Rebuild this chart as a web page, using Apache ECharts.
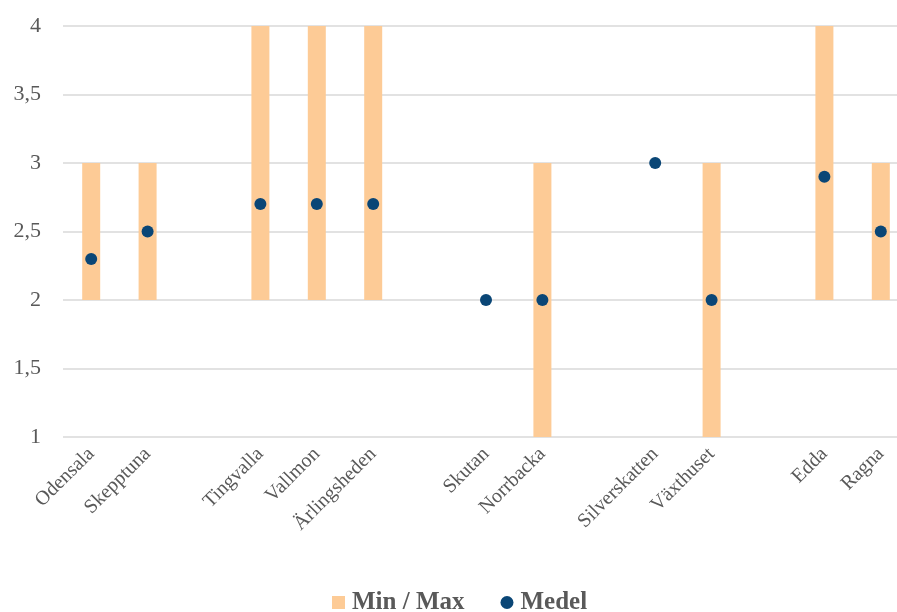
<!DOCTYPE html>
<html>
<head>
<meta charset="utf-8">
<script src="https://cdn.jsdelivr.net/npm/echarts@6/dist/echarts.min.js"></script>
<style>html,body{margin:0;padding:0;background:#fff;overflow:hidden}#c{width:897px;height:612px}</style>
</head>
<body>
<div id="c"></div>
<script>
const categories = ['Odensala','Skepptuna','','Tingvalla','Vallmon','Ärlingsheden','','Skutan','Norrbacka','','Silverskatten','Växthuset','','Edda','Ragna'];
const minValues = [2, 2, null, 2, 2, 2, null, 2, 1, null, 3, 1, null, 2, 2];
const maxValues = [3, 3, null, 4, 4, 4, null, 2, 3, null, 3, 3, null, 4, 3];
const meanValues = [2.3, 2.5, null, 2.7, 2.7, 2.7, null, 2, 2, null, 3, 2, null, 2.9, 2.5];
const yTicks = [1, 1.5, 2, 2.5, 3, 3.5, 4];

const rangeValues = minValues.map((m, i) => (m === null ? null : maxValues[i] - m));
const font = '"Liberation Serif", "DejaVu Serif", serif';

const chart = echarts.init(document.getElementById('c'));
chart.setOption({
  animation: false,
  textStyle: { fontFamily: font },
  grid: { left: 63, width: 846, top: 26, height: 411, outerBoundsMode: 'none', containLabel: false },
  legend: {
    top: 590,
    left: 332,
    padding: 0,
    itemGap: 36,
    itemWidth: 13,
    itemHeight: 13,
    textStyle: { fontFamily: font, fontSize: 25, fontWeight: 'bold', color: '#595959', padding: [0, 0, 0, 2] },
    data: [
      { name: 'Min / Max', icon: 'rect' },
      { name: 'Medel', icon: 'circle' }
    ]
  },
  xAxis: {
    type: 'category',
    data: categories,
    axisLine: { show: false },
    axisTick: { show: false },
    axisLabel: {
      interval: 0,
      rotate: 45,
      fontFamily: font,
      fontSize: 20,
      color: '#595959',
      margin: 14
    }
  },
  yAxis: {
    type: 'value',
    min: 1,
    max: 4,
    interval: 0.5,
    axisLine: { show: false },
    axisTick: { show: false },
    splitLine: { lineStyle: { color: '#d9d9d9', width: 1.5 } },
    axisLabel: {
      fontFamily: font,
      fontSize: 22,
      color: '#595959',
      margin: 22,
      formatter: v => yTicks.includes(v) ? String(v).replace('.', ',') : ''
    }
  },
  series: [
    {
      name: 'base',
      type: 'bar',
      stack: 'r',
      barWidth: 18,
      itemStyle: { color: 'transparent' },
      data: minValues,
      silent: true
    },
    {
      name: 'Min / Max',
      type: 'bar',
      stack: 'r',
      barWidth: 18,
      itemStyle: { color: '#FDCB96' },
      data: rangeValues
    },
    {
      name: 'Medel',
      type: 'scatter',
      symbol: 'circle',
      symbolSize: 12,
      itemStyle: { color: '#0A4676', opacity: 1 },
      data: meanValues,
      z: 5
    }
  ]
});
</script>
</body>
</html>
